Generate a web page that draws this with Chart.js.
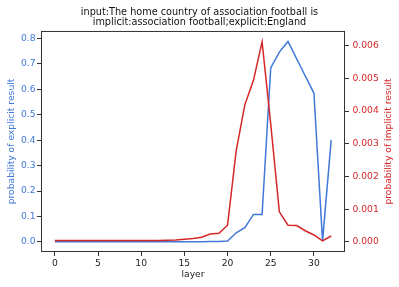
<!DOCTYPE html>
<html>
<head>
<meta charset="utf-8">
<script src="https://cdn.jsdelivr.net/npm/chart.js@4"></script>
<style>
  body { margin: 0; background: #fff; }
</style>
</head>
<body>
<canvas id="myChart" width="399" height="287"></canvas>
<script>
const layers = [0, 1, 2, 3, 4, 5, 6, 7, 8, 9, 10, 11, 12, 13, 14, 15, 16,
    17, 18, 19, 20, 21, 22, 23, 24, 25, 26, 27, 28, 29, 30, 31, 32];

// probability of explicit result (left axis, blue)
const explicitProb = [0.0003, 0.0003, 0.0003, 0.0003, 0.0003, 0.0003, 0.0003, 0.0004, 0.0004,
    0.0004, 0.0004, 0.0005, 0.0005, 0.0005, 0.0006, 0.0007, 0.0008, 0.0010, 0.0015, 0.002,
    0.004, 0.036, 0.056, 0.108, 0.108, 0.684, 0.746, 0.788, 0.72, 0.652, 0.585, 0.004, 0.40];

// probability of implicit result (right axis, red)
const implicitProb = [0.00004, 0.00004, 0.00004, 0.00004, 0.00004, 0.00004, 0.00004, 0.00004,
    0.00004, 0.00004, 0.00004, 0.00004, 0.00004, 0.00005, 0.00006, 0.00008, 0.0001, 0.00014,
    0.00024, 0.00026, 0.00051, 0.00278, 0.00419, 0.00494, 0.00612, 0.0036, 0.00092, 0.00051,
    0.0005, 0.00034, 0.00021, 0.00003, 0.00018];

const xTicks = [0, 5, 10, 15, 20, 25, 30];
const leftTicks = [0, 0.1, 0.2, 0.3, 0.4, 0.5, 0.6, 0.7, 0.8];
const rightTicks = [0, 0.001, 0.002, 0.003, 0.004, 0.005, 0.006];

const blue = '#3f78d8';
const red = '#d62728';
const font = { family: 'DejaVu Sans', size: 9.2 };

// frame around the plot (matplotlib spines) + right axis label read bottom-to-top
const frame = {
    id: 'frame',
    afterDraw(chart) {
        const a = chart.chartArea;
        const ctx = chart.ctx;
        ctx.save();
        ctx.strokeStyle = '#333';
        ctx.lineWidth = 1;
        ctx.strokeRect(a.left + 0.5, a.top + 0.5, a.right - a.left - 1, a.bottom - a.top - 1);
        ctx.translate(389, (a.top + a.bottom) / 2);
        ctx.rotate(-Math.PI / 2);
        ctx.fillStyle = red;
        ctx.font = font.size + 'px "DejaVu Sans"';
        ctx.textAlign = 'center';
        ctx.textBaseline = 'middle';
        ctx.fillText('probability of implicit result', 0, 0);
        ctx.restore();
    }
};

function setTicks(values) {
    return function (scale) {
        scale.ticks = values.map(v => ({ value: v }));
    };
}

const config = {
    type: 'line',
    data: {
        datasets: [{
            label: 'implicit',
            data: layers.map((l, i) => ({ x: l, y: implicitProb[i] })),
            borderColor: red,
            borderWidth: 1.5,
            pointRadius: 0,
            yAxisID: 'y2',
            order: 0
        }, {
            label: 'explicit',
            data: layers.map((l, i) => ({ x: l, y: explicitProb[i] })),
            borderColor: blue,
            borderWidth: 1.5,
            pointRadius: 0,
            yAxisID: 'y',
            order: 1
        }]
    },
    options: {
        responsive: false,
        animation: false,
        layout: { padding: { top: 0, right: 0, left: 0, bottom: 0 } },
        plugins: {
            legend: { display: false },
            tooltip: { enabled: false },
            title: {
                display: true,
                text: ['input:The home country of association football is',
                    'implicit:association football;explicit:England'],
                color: '#111',
                font: { family: 'DejaVu Sans', size: 9.7, weight: 'normal', lineHeight: 1.05 },
                padding: { top: 7, bottom: 3.6 }
            }
        },
        scales: {
            x: {
                type: 'linear',
                min: -1.6,
                max: 33.6,
                afterBuildTicks: setTicks(xTicks),
                afterFit(scale) { scale.height = 35; },
                grid: { drawOnChartArea: false, drawTicks: true, tickLength: 4, color: '#333' },
                border: { display: false },
                ticks: { color: '#222', font: font, padding: 2 },
                title: { display: true, text: 'layer', color: '#222', font: font, padding: { bottom: 7 } }
            },
            y: {
                position: 'left',
                min: -0.0395,
                max: 0.829,
                afterBuildTicks: setTicks(leftTicks),
                afterFit(scale) { scale.width = 41; },
                grid: { drawOnChartArea: false, drawTicks: true, tickLength: 4, color: '#333' },
                border: { display: false },
                ticks: { color: blue, font: font, padding: 1.5, callback: v => v.toFixed(1) },
                title: { display: true, text: 'probability of explicit result', color: blue, font: font, padding: { top: 6.3 } }
            },
            y2: {
                position: 'right',
                min: -0.00031,
                max: 0.00645,
                afterBuildTicks: setTicks(rightTicks),
                afterFit(scale) { scale.width = 54; },
                grid: { drawOnChartArea: false, drawTicks: true, tickLength: 4, color: '#333' },
                border: { display: false },
                ticks: { color: red, font: font, padding: 3.5, callback: v => v.toFixed(3) },
                title: { display: false }
            }
        }
    },
    plugins: [frame]
};

const myChart = new Chart(
    document.getElementById('myChart'),
    config
);
</script>
</body>
</html>
